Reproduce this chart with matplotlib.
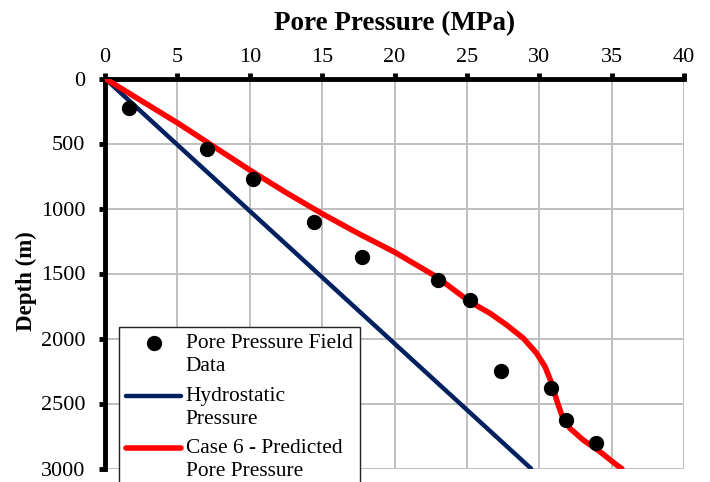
import numpy as np
import matplotlib
matplotlib.use("Agg")
import matplotlib.pyplot as plt
from matplotlib.legend_handler import HandlerLine2D

plt.rcParams['font.family'] = ['Liberation Serif', 'DejaVu Serif']

# field measurements: pressure (MPa) vs depth (m)
field_p = [1.68, 7.07, 10.25, 14.46, 17.75, 23.03, 25.22, 27.34, 30.79, 31.85, 33.92]
field_d = [225, 545, 773, 1106, 1371, 1550, 1704, 2250, 2378, 2627, 2802]

# hydrostatic gradient
hydro_p = [0.0, 29.43]
hydro_d = [0, 3000]

# case 6 model prediction
case6_p = [0.0, 5.06, 10.0, 12.5, 15.0, 17.5, 20.0, 22.9, 25.2, 26.6, 27.75, 28.9, 29.82, 30.4,
           30.86, 31.2, 31.55, 32.12, 33.04, 34.2, 35.35, 35.7]
case6_d = [0, 345, 704, 877, 1040, 1192, 1335, 1525, 1717, 1806, 1896, 1998, 2114, 2217,
           2345, 2473, 2588, 2691, 2781, 2871, 2973, 3000]

xticks = np.arange(0, 41, 5)
yticks = np.arange(0, 3001, 500)


# legend handle sitting on the first line of a two-line label
class TopLineHandler(HandlerLine2D):
    shift = 8.3

    def create_artists(self, legend, orig_handle, xdescent, ydescent,
                       width, height, fontsize, trans):
        return super().create_artists(legend, orig_handle, xdescent,
                                      ydescent - 2*self.shift, width, height,
                                      fontsize, trans)


fig = plt.figure(figsize=(7.1, 4.82), dpi=100)
ax = fig.add_axes([105/710, 1 - 468.5/482, 579/710, 390/482])

l_hyd, = ax.plot(hydro_p, hydro_d, color='#002060', lw=3.2, solid_capstyle='round',
                 label='Hydrostatic\nPressure', zorder=3)
l_c6, = ax.plot(case6_p, case6_d, color='#FF0000', lw=4.0, solid_capstyle='round',
                solid_joinstyle='round', label='Case 6 - Predicted\nPore Pressure', zorder=4)
l_fd, = ax.plot(field_p, field_d, 'o', color='black', ms=10, ls='none',
                label='Pore Pressure Field\nData', zorder=5)

ax.set_xlim(0, 40)
ax.set_ylim(3000, 0)
ax.set_xticks(xticks)
ax.set_yticks(yticks)
ax.xaxis.tick_top()
ax.xaxis.set_label_position('top')
ax.grid(True, color='#BFBFBF', lw=1.4, zorder=0)
ax.set_axisbelow(True)

for s in ['right', 'bottom']:
    ax.spines[s].set_visible(False)
for s in ['top', 'left']:
    ax.spines[s].set_linewidth(3.5)
    ax.spines[s].set_color('black')

ax.tick_params(axis='x', direction='out', length=4, width=3.5, pad=4, labelsize=16)
ax.tick_params(axis='y', direction='out', length=4, width=3.5, pad=10, labelsize=16)

ax.set_xlabel('Pore Pressure (MPa)', fontsize=19.5, fontweight='bold', labelpad=13)
ax.set_ylabel('Depth (m)', fontsize=16.5, fontweight='bold', labelpad=3)
ax.yaxis.label.set_y(0.481)

hnd = [l_fd, l_hyd, l_c6]
leg = ax.legend(hnd, [x.get_label() for x in hnd],
                handler_map={x: TopLineHandler() for x in hnd},
                loc='upper left', bbox_to_anchor=(0.0242, 0.3636),
                fontsize=15.4, frameon=True, fancybox=False, framealpha=1,
                edgecolor='#222222', handlelength=2.57, handletextpad=0.2,
                borderpad=0.35, labelspacing=0.5, borderaxespad=0)
for t in leg.get_texts():
    t.set_linespacing(1.28)
leg.get_frame().set_linewidth(1.0)
leg.set_zorder(10)

plt.savefig('out.png', dpi=100)
